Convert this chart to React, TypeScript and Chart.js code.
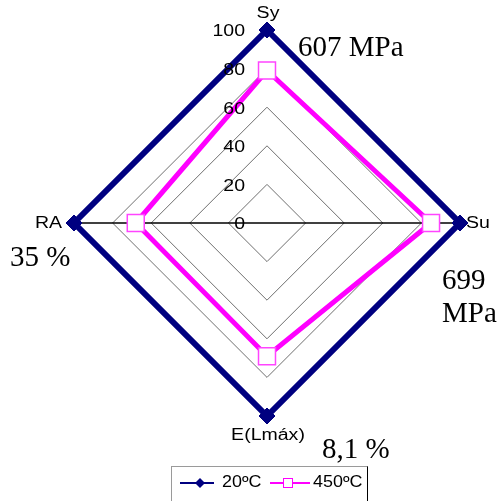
import React, { useEffect, useRef } from "react";
import { Chart, registerables } from "chart.js";

Chart.register(...registerables);

const categories = ["Sy", "Su", "E(Lmáx)", "RA"];
const series20 = [100, 100, 100, 100];
const series450 = [79, 85, 69, 68];
const seriesNames = ["20ºC", "450ºC"];
const tickValues = [0, 20, 40, 60, 80, 100];
const noteSy = "607 MPa";
const noteSu = ["699", "MPa"];
const noteE = "8,1 %";
const noteRA = "35 %";

const NAVY = "#000080";
const MAGENTA = "#FF00FF";

const drawStretched = (
  ctx: CanvasRenderingContext2D,
  text: string,
  x: number,
  y: number,
  align: CanvasTextAlign,
  sx = 1.22
) => {
  ctx.save();
  ctx.translate(x, y);
  ctx.scale(sx, 1);
  ctx.textAlign = align;
  ctx.textBaseline = "middle";
  ctx.fillText(text, 0, 0);
  ctx.restore();
};

const overlayPlugin = {
  id: "overlayTexts",
  afterDraw(chart: any) {
    const ctx: CanvasRenderingContext2D = chart.ctx;
    const s = chart.scales.r;
    const cx = s.xCenter;
    const cy = s.yCenter;
    const R = s.drawingArea;
    ctx.save();
    ctx.fillStyle = "#000";
    ctx.font = '16px "Liberation Sans", Arial, sans-serif';
    // tick labels
    tickValues.forEach((v) => {
      const d = s.getDistanceFromCenterForValue(v);
      drawStretched(ctx, String(v), cx - 22, cy - d + 2, "right");
    });
    // point labels
    drawStretched(ctx, categories[0], cx + 1, cy - R - 16, "center");
    drawStretched(ctx, categories[1], cx + R + 6, cy + 1, "left");
    drawStretched(ctx, categories[2], cx + 1, cy + R + 20, "center");
    drawStretched(ctx, categories[3], cx - R - 12, cy + 1, "right");

    // annotations in serif
    ctx.font = '29px "Liberation Serif", "Times New Roman", serif';
    ctx.textAlign = "left";
    ctx.textBaseline = "middle";
    ctx.fillText(noteSy, 298, 48);
    ctx.fillText(noteSu[0], 442, 281);
    ctx.fillText(noteSu[1], 442, 314);
    ctx.fillText(noteE, 322, 450);
    ctx.fillText(noteRA, 10, 258);

    // legend
    const lx = 171.5, ly = 466.5, lw = 196, lh = 40;
    ctx.strokeStyle = "#9a9a9a";
    ctx.lineWidth = 1;
    ctx.strokeRect(lx, ly, lw, lh);
    ctx.strokeStyle = "#000";
    ctx.beginPath();
    ctx.moveTo(lx + lw, ly);
    ctx.lineTo(lx + lw, ly + lh);
    ctx.stroke();
    const yl = 483;
    const ds0 = chart.data.datasets[0];
    const ds1 = chart.data.datasets[1];
    ctx.strokeStyle = ds0.borderColor;
    ctx.lineWidth = 2;
    ctx.beginPath();
    ctx.moveTo(180, yl);
    ctx.lineTo(214, yl);
    ctx.stroke();
    ctx.fillStyle = ds0.borderColor;
    ctx.beginPath();
    ctx.moveTo(200, yl - 5);
    ctx.lineTo(205, yl);
    ctx.lineTo(200, yl + 5);
    ctx.lineTo(195, yl);
    ctx.closePath();
    ctx.fill();
    ctx.strokeStyle = ds1.borderColor;
    ctx.beginPath();
    ctx.moveTo(270, yl);
    ctx.lineTo(310, yl);
    ctx.stroke();
    ctx.fillStyle = "#fff";
    ctx.fillRect(283, yl - 5, 10, 10);
    ctx.lineWidth = 1;
    ctx.strokeRect(283.5, yl - 4.5, 9, 9);
    ctx.fillStyle = "#000";
    ctx.font = '16px "Liberation Sans", Arial, sans-serif';
    drawStretched(ctx, seriesNames[0], 222, yl, "left", 1.12);
    drawStretched(ctx, seriesNames[1], 313, yl, "left", 1.12);
    ctx.restore();
  },
};

export default function App() {
  const ref = useRef<HTMLCanvasElement | null>(null);
  useEffect(() => {
    if (!ref.current) return;
    const chart = new Chart(ref.current, {
      type: "radar",
      data: {
        labels: categories,
        datasets: [
          {
            label: seriesNames[0],
            data: series20,
            borderColor: NAVY,
            backgroundColor: NAVY,
            borderWidth: 6,
            fill: false,
            pointStyle: "rectRot",
            pointRadius: 8,
            pointBackgroundColor: NAVY,
            pointBorderColor: NAVY,
            pointBorderWidth: 1,
          },
          {
            label: seriesNames[1],
            data: series450,
            borderColor: MAGENTA,
            backgroundColor: MAGENTA,
            borderWidth: 5,
            fill: false,
            pointStyle: "rect",
            pointRadius: 12,
            pointBackgroundColor: "#ffffff",
            pointBorderColor: "#FF44FF",
            pointBorderWidth: 1.5,
          },
        ],
      },
      options: {
        responsive: false,
        animation: false,
        layout: { padding: { left: 74, right: 39, top: 30, bottom: 85 } },
        plugins: { legend: { display: false }, tooltip: { enabled: false } },
        elements: { line: { tension: 0, borderJoinStyle: "miter" } },
        scales: {
          r: {
            min: 0,
            max: 100,
            ticks: { display: false, stepSize: 20 },
            pointLabels: { display: false },
            grid: { color: "#6e6e6e", lineWidth: 1 },
            angleLines: {
              color: (c: any) => (c.index % 2 === 1 ? "#000" : "rgba(0,0,0,0)"),
              lineWidth: 1.3,
            },
          },
        },
      },
      plugins: [overlayPlugin],
    } as any);
    return () => chart.destroy();
  }, []);
  return (
    <div style={{ position: "fixed", left: 0, top: 0, width: 499, height: 501, background: "#fff" }}>
      <canvas ref={ref} width={499} height={501} style={{ display: "block", width: 499, height: 501 }} />
    </div>
  );
}
